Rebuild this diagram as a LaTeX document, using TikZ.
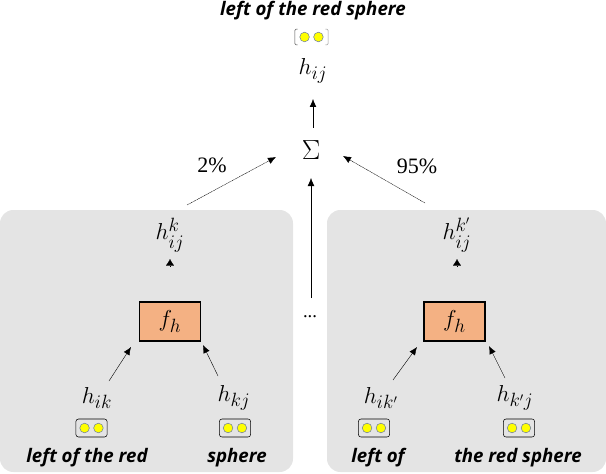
\documentclass[tikz,border=0pt]{standalone}
\usepackage{amsmath,amssymb}
\usepackage{fontspec}
\setmainfont{Open Sans}
\newfontfamily\pctfont{Liberation Serif}
\usepackage{xcolor}
\usepackage{tikz}
\usetikzlibrary{arrows.meta,positioning}
\definecolor{panelgray}{HTML}{E4E4E4}
\definecolor{boxorange}{HTML}{F4B183}
\definecolor{dotyellow}{HTML}{FFFF00}
\definecolor{dotrim}{HTML}{7080A0}

\begin{document}
\begin{tikzpicture}[
  x=0.75pt, y=-0.75pt,
  panel/.style={fill=panelgray, rounded corners=10pt},
  func/.style={draw=black, line width=1.1pt, fill=boxorange,
               minimum width=46pt, minimum height=29pt, inner sep=0pt,
               font=\fontsize{19}{22}\selectfont},
  vec/.style={inner sep=0pt, font=\fontsize{19}{22}\selectfont},
  capsule/.style={draw=black, line width=0.4pt, rounded corners=2pt,
                  minimum width=23.5pt, minimum height=13.5pt, inner sep=0pt},
  bracket/.style={draw=black!70, line width=0.4pt, rounded corners=1pt},
  dot/.style={circle, draw=dotrim, fill=dotyellow, line width=0.4pt,
              minimum size=7.2pt, inner sep=0pt},
  phrase/.style={inner sep=0pt, font=\fontsize{14}{16}\selectfont\bfseries\itshape},
  pct/.style={inner sep=0pt, font=\fontsize{16.5}{18}\pctfont},
  arrow/.style={-{Latex[length=6pt,width=5pt]}, line width=0.3pt, draw=black},
  weight/.style={arrow, dash pattern=on 0.8pt off 0.4pt},
  tip/.style={-{Latex[length=5pt,width=6pt]}, line width=0.1pt, draw=black}
]
  \useasboundingbox (0,0) rectangle (606,474);

  \fill[panel] (0,210) rectangle (293,472);
  \fill[panel] (327,210) rectangle (606,472);

  % top of the tree
  \node[phrase] (toplabel) at (313,11) {left of the red sphere};
  \node[minimum width=24.5pt, minimum height=11.5pt, inner sep=0pt] (topcap) at (311.5,37) {};
  \node[vec] (hij) at (313,71) {$h_{ij}$};
  \node[inner sep=0pt, font=\fontsize{20}{24}\selectfont] (sum) at (311,150) {$\Sigma$};
  \node[inner sep=0pt, font=\fontsize{14}{16}\pctfont] (dots) at (310,317) {...};

  % left panel
  \node[func] (fleft) at (170,321.5) {$f_h$};
  \node[vec] (hijk) at (170,235) {$h_{ij}^{k}$};
  \node[vec] (hik) at (97,398) {$h_{ik}$};
  \node[vec] (hkj) at (234,398) {$h_{kj}$};
  \node[capsule] (capik) at (91.5,428) {};
  \node[capsule] (capkj) at (235,428) {};
  \node[phrase] (lblik) at (87,458) {left of the red};
  \node[phrase] (lblkj) at (237,458) {sphere};

  % right panel
  \node[func] (fright) at (454.5,321.5) {$f_h$};
  \node[vec] (hijp) at (457,235) {$h_{ij}^{k'}$};
  \node[vec] (hikp) at (381,398) {$h_{ik'}$};
  \node[vec] (hkjp) at (515,398) {$h_{k'j}$};
  \node[capsule] (capikp) at (374,428) {};
  \node[capsule] (capkjp) at (519,428) {};
  \node[phrase] (lblikp) at (378,458) {left of};
  \node[phrase] (lblkjp) at (518,458) {the red sphere};

  \foreach \capname in {topcap,capik,capkj,capikp,capkjp} {
    \node[dot] (\capname-a) at ([xshift=-5.2pt]\capname.center) {};
    \node[dot] (\capname-b) at ([xshift=5.2pt]\capname.center) {};
  }
  \draw[bracket] ([xshift=2pt]topcap.north west) -- (topcap.north west)
    -- (topcap.south west) -- ([xshift=2pt]topcap.south west);
  \draw[bracket, draw=black!40] ([xshift=-2pt]topcap.north east) -- (topcap.north east)
    -- (topcap.south east) -- ([xshift=-2pt]topcap.south east);

  \draw[arrow] ([shift={(2,-22)}]sum.center) -- ([shift={(0,28)}]hij.center);
  \draw[arrow] ([shift={(1,-19)}]dots.center) -- ([shift={(0,28)}]sum.center);
  \draw[weight] ([shift={(17,-30)}]hijk.center) -- ([shift={(-35,7)}]sum.center);
  \draw[weight] ([shift={(-32,-32)}]hijp.center) -- ([shift={(32,6)}]sum.center);
  \draw[tip] ([shift={(0,-54.5)}]fleft.center) -- ([shift={(0,24)}]hijk.center);
  \draw[tip] ([shift={(2.5,-54.5)}]fright.center) -- ([shift={(0,24)}]hijp.center);
  \draw[arrow] ([shift={(12,-17)}]hik.center) -- ([shift={(-39,25.5)}]fleft.center);
  \draw[arrow] ([shift={(-16,-22)}]hkj.center) -- ([shift={(33,23.5)}]fleft.center);
  \draw[arrow] ([shift={(12,-18)}]hikp.center) -- ([shift={(-37.5,25.5)}]fright.center);
  \draw[arrow] ([shift={(-10,-20)}]hkjp.center) -- ([shift={(34.5,24.5)}]fright.center);

  \node[pct] (pctleft) at (212,165) {2\%};
  \node[pct] (pctright) at (417,166) {95\%};
\end{tikzpicture}
\end{document}
